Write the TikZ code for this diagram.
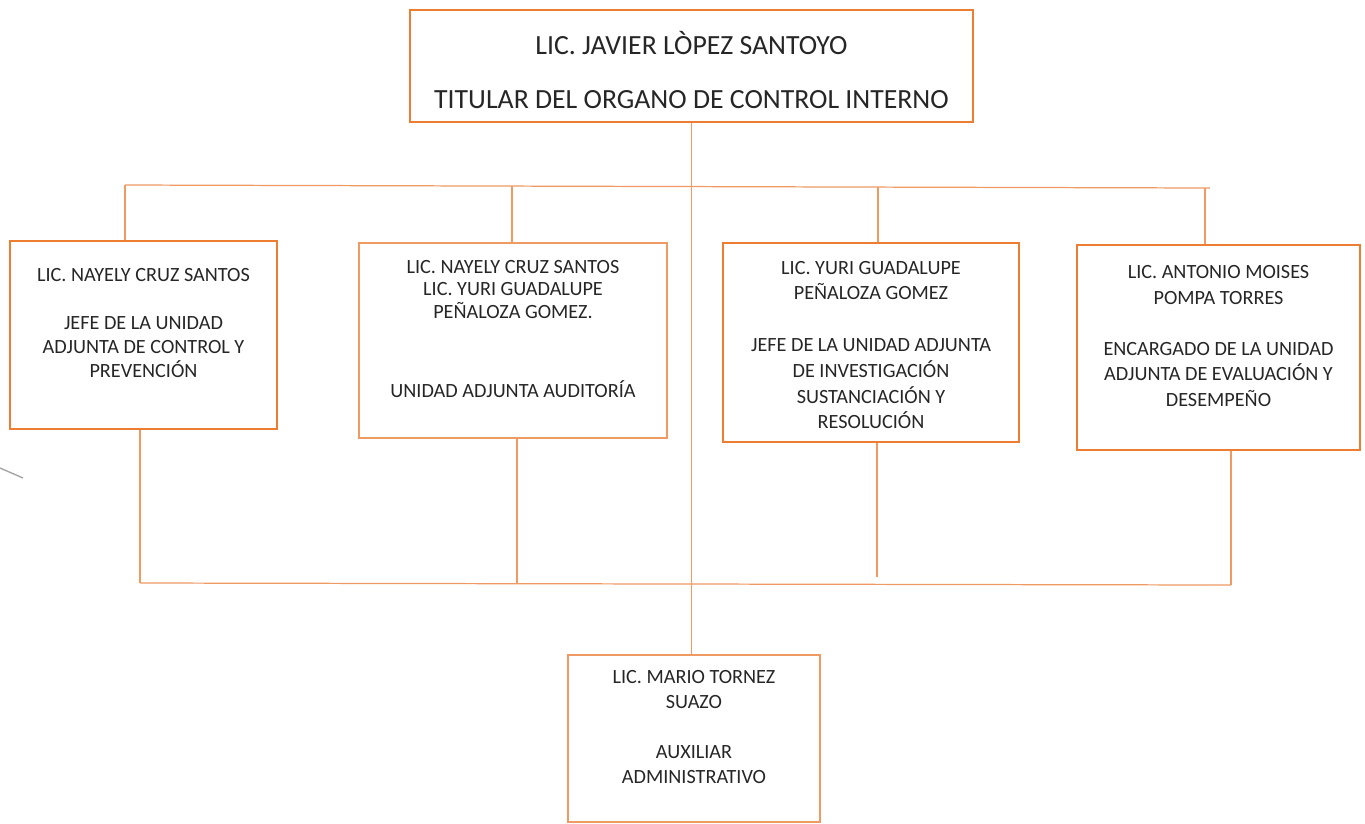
\documentclass[tikz,border=0pt]{standalone}
\usepackage{fontspec}
\setmainfont{Carlito}
\definecolor{orthick}{HTML}{ED7D31}
\definecolor{orthin}{HTML}{EE9A62}
\definecolor{txt}{HTML}{262626}
\begin{document}
\begin{tikzpicture}[x=0.02cm,y=-0.02cm,
  boxthick/.style={draw=orthick, line width=1.5pt, inner sep=0pt, rectangle},
  boxthin/.style={draw=orthin, line width=0.7pt, inner sep=0pt, rectangle},
  conn/.style={draw=orthin, line width=0.7pt},
  lbl/.style={text=txt, align=center, inner sep=0pt, font=\fontsize{11.5}{13.6}\selectfont}]
\useasboundingbox (0,0) rectangle (1365,823);
% boxes
\node[boxthick, minimum width=11.26cm, minimum height=2.24cm] (top) at (691.5,66) {};
\node[boxthick, minimum width=5.34cm, minimum height=3.76cm] (b1) at (143.5,335) {};
\node[boxthin,  minimum width=6.16cm, minimum height=3.90cm] (b2) at (513,340.5) {};
\node[boxthick, minimum width=5.92cm, minimum height=3.98cm] (b3) at (871,342.5) {};
\node[boxthick, minimum width=5.66cm, minimum height=4.10cm] (b4) at (1218.5,347.5) {};
\node[boxthin,  minimum width=5.04cm, minimum height=3.34cm] (bot) at (694,738.5) {};
% texts
\node[lbl, font=\fontsize{15.8}{31.2}\selectfont] (ttop) at (691.5,70) {LIC. JAVIER LÒPEZ SANTOYO\\TITULAR DEL ORGANO DE CONTROL INTERNO};
\node[lbl] (t1) at (143.5,323) {LIC. NAYELY CRUZ SANTOS\\[13.6pt]JEFE DE LA UNIDAD\\ADJUNTA DE CONTROL Y\\PREVENCIÓN};
\node[lbl, font=\fontsize{11.5}{13}\selectfont] (t2) at (513,329) {LIC. NAYELY CRUZ SANTOS\\LIC. YURI GUADALUPE\\PEÑALOZA GOMEZ.\\[32pt]UNIDAD ADJUNTA AUDITORÍA};
\node[lbl, font=\fontsize{11.5}{14.7}\selectfont] (t3) at (871,345) {LIC. YURI GUADALUPE\\PEÑALOZA GOMEZ\\[14.7pt]JEFE DE LA UNIDAD ADJUNTA\\DE INVESTIGACIÓN\\SUSTANCIACIÓN Y\\RESOLUCIÓN};
\node[lbl, font=\fontsize{11.5}{14.5}\selectfont] (t4) at (1218.5,336) {LIC. ANTONIO MOISES\\POMPA TORRES\\[14.5pt]ENCARGADO DE LA UNIDAD\\ADJUNTA DE EVALUACIÓN Y\\DESEMPEÑO};
\node[lbl, font=\fontsize{11.5}{14.2}\selectfont] (tb) at (694,727) {LIC. MARIO TORNEZ\\SUAZO\\[14.2pt]AUXILIAR\\ADMINISTRATIVO};
% top bar
\coordinate (tl) at (125,185);
\coordinate (tr) at (1210,188);
\coordinate (j2) at (512,186);
\coordinate (j3) at (878,187);
\coordinate (j4) at (1205,188);
\draw[conn] (tl) -- (tr);
\draw[conn] (tl) -- (tl |- b1.north);
\draw[conn] (j2) -- (j2 |- b2.north);
\draw[conn] (j3) -- (j3 |- b3.north);
\draw[conn] (j4) -- (j4 |- b4.north);
% main vertical
\draw[conn] (top.south) -- (top.south |- bot.north);
% bottom bar
\coordinate (bl) at (140,583);
\coordinate (br) at (1231,585);
\coordinate (k2) at (517,583);
\coordinate (k3) at (877,577);
\draw[conn] (bl) -- (br);
\draw[conn] (bl |- b1.south) -- (bl);
\draw[conn] (k2 |- b2.south) -- (k2);
\draw[conn] (k3 |- b3.south) -- (k3);
\draw[conn] (br |- b4.south) -- (br);
% scan mark
\draw[gray!70, line width=0.8pt] (0,468) -- (23,478);
\end{tikzpicture}
\end{document}
